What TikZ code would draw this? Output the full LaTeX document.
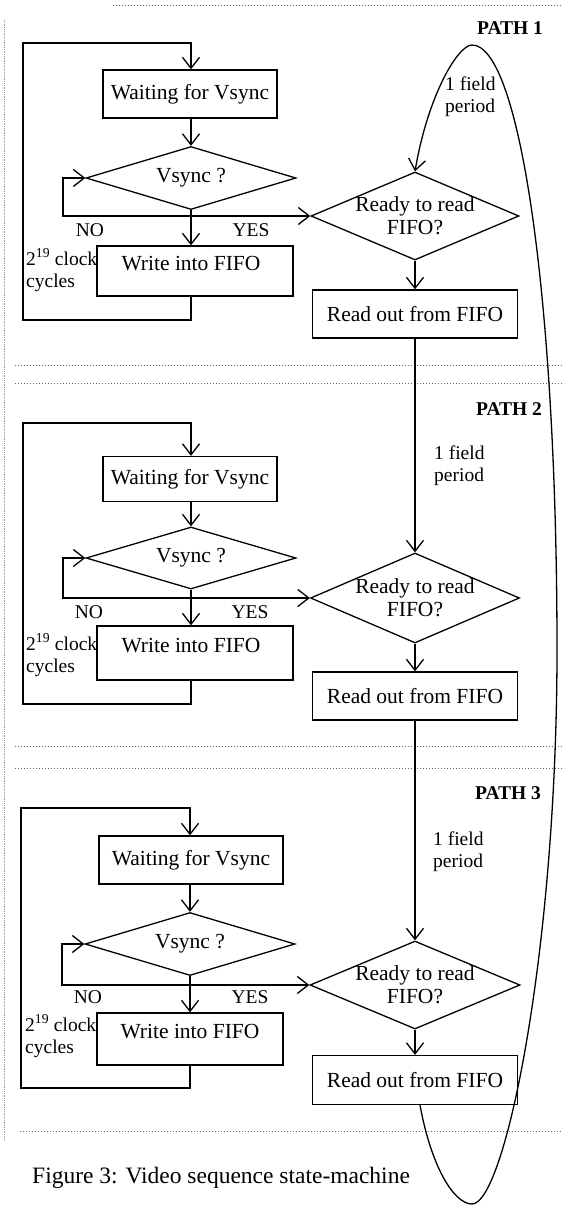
\documentclass[tikz,border=0pt]{standalone}
\usepackage{fontspec}
\setmainfont{Liberation Serif}
\usetikzlibrary{shapes.geometric,arrows.meta}
\newcommand\mainf{\fontsize{21.5}{23}\selectfont}
\newcommand\lblf{\fontsize{19.5}{22}\selectfont}
\newcommand\capf{\fontsize{23.5}{26}\selectfont}
\begin{document}
\begin{tikzpicture}[x=1pt,y=-1pt,
  ln/.style={line width=1.3pt},
  arr/.style={ln,-{Straight Barb[length=11pt,width=17pt]}},
  box/.style={draw,ln,rectangle,inner sep=0pt,font=\mainf},
  dia/.style={draw,ln,diamond,shape aspect=3,inner sep=0pt,font=\mainf},
  intext/.style={font=\mainf,align=center,inner sep=0pt},
  lbl/.style={font=\lblf,inner sep=0pt},
  pathlbl/.style={font=\lblf\bfseries,inner sep=0pt},
  sep/.style={draw=black!60,dotted,line width=1pt}]
\useasboundingbox (0,0) rectangle (562,1208);
% separators
\draw[sep] (113,5) -- (562,5);
\draw[sep] (15,365) -- (562,365);
\draw[sep] (15,383) -- (562,383);
\draw[sep] (15,746) -- (562,746);
\draw[sep] (15,768) -- (562,768);
\draw[sep] (20,1131) -- (562,1131);
\draw[draw=black!40,densely dotted,line width=0.8pt] (4,20) -- (4,1140);

% ---------- PATH 1 ----------
\node[box,minimum width=174pt,minimum height=48pt] (wt1) at (190,94) {Waiting for Vsync};
\node[dia,minimum width=210pt,minimum height=63pt] (vs1) at (191,178) {Vsync ?};
\node[dia,minimum width=208pt,minimum height=88pt,
      label={[intext]center:{Ready to read\\FIFO?}}] (rd1) at (415,216) {};
\node[box,minimum width=196pt,minimum height=50pt,
      label={[intext,xshift=-4pt,yshift=7pt]center:{Write into FIFO}}] (wr1) at (195,271) {};
\node[box,minimum width=205pt,minimum height=48pt] (rr1) at (415,314) {Read out from FIFO};
\coordinate (j1) at (vs1.south |- rd1.west);
\coordinate (no1) at (63,216);
\coordinate (lb1) at (23,320);
\coordinate (lt1) at (23,43);
\draw[arr] (wt1.south -| vs1.north) -- (vs1.north);
\draw[arr] (vs1.south) -- (vs1.south |- wr1.north);
\draw[arr] (j1) -- (rd1.west);
\draw[arr] (j1) -- (no1) |- (vs1.west);
\draw[arr] (wr1.south -| vs1.south) |- (lb1) -- (lt1) -| (wt1.north -| vs1.north);
\draw[arr] (rd1.south) -- (rr1.north);
\node[lbl] (no1t) at (90,230) {NO};
\node[lbl] (yes1t) at (251,230) {YES};
\node[lbl,anchor=west,align=left] (clk1) at (26,270) {2\textsuperscript{19} clock\\cycles};
\node[pathlbl] (p1) at (510,28) {PATH 1};
\node[lbl,anchor=west,align=left] (fp1) at (445,97) {1 field\\period};

% ---------- PATH 2 ----------
\node[box,minimum width=174pt,minimum height=45pt] (wt2) at (190,479) {Waiting for Vsync};
\node[dia,minimum width=210pt,minimum height=62pt] (vs2) at (191,558) {Vsync ?};
\node[dia,minimum width=209pt,minimum height=90pt,
      label={[intext]center:{Ready to read\\FIFO?}}] (rd2) at (415,598) {};
\node[box,minimum width=196pt,minimum height=54pt,
      label={[intext,xshift=-4pt,yshift=7pt]center:{Write into FIFO}}] (wr2) at (195,653) {};
\node[box,minimum width=205pt,minimum height=48pt] (rr2) at (415,696) {Read out from FIFO};
\coordinate (j2) at (vs2.south |- rd2.west);
\coordinate (no2) at (63,598);
\coordinate (lb2) at (23,704);
\coordinate (lt2) at (23,423);
\draw[arr] (wt2.south -| vs2.north) -- (vs2.north);
\draw[arr] (vs2.south) -- (vs2.south |- wr2.north);
\draw[arr] (j2) -- (rd2.west);
\draw[arr] (j2) -- (no2) |- (vs2.west);
\draw[arr] (wr2.south -| vs2.south) |- (lb2) -- (lt2) -| (wt2.north -| vs2.north);
\draw[arr] (rd2.south) -- (rr2.north);
\draw[arr] (rr1.south) -- (rd2.north);
\node[lbl] (no2t) at (89,612) {NO};
\node[lbl] (yes2t) at (250,612) {YES};
\node[lbl,anchor=west,align=left] (clk2) at (26,655) {2\textsuperscript{19} clock\\cycles};
\node[pathlbl] (p2) at (509,409) {PATH 2};
\node[lbl,anchor=west,align=left] (fp2) at (434,466) {1 field\\period};

% ---------- PATH 3 ----------
\node[box,minimum width=184pt,minimum height=48pt] (wt3) at (191,860) {Waiting for Vsync};
\node[dia,minimum width=210pt,minimum height=63pt] (vs3) at (190,944) {Vsync ?};
\node[dia,minimum width=210pt,minimum height=88pt,
      label={[intext]center:{Ready to read\\FIFO?}}] (rd3) at (415,985) {};
\node[box,minimum width=186pt,minimum height=52pt,
      label={[intext,yshift=7pt]center:{Write into FIFO}}] (wr3) at (190,1039) {};
\node[box,minimum width=205pt,minimum height=49pt] (rr3) at (415,1080) {Read out from FIFO};
\coordinate (j3) at (vs3.south |- rd3.west);
\coordinate (no3) at (62,985);
\coordinate (lb3) at (21,1088);
\coordinate (lt3) at (21,808);
\draw[arr] (wt3.south -| vs3.north) -- (vs3.north);
\draw[arr] (vs3.south) -- (vs3.south |- wr3.north);
\draw[arr] (j3) -- (rd3.west);
\draw[arr] (j3) -- (no3) |- (vs3.west);
\draw[arr] (wr3.south -| vs3.south) |- (lb3) -- (lt3) -| (wt3.north -| vs3.north);
\draw[arr] (rd3.south) -- (rr3.north);
\draw[arr] (rr2.south) -- (rd3.north);
\node[lbl] (no3t) at (88,997) {NO};
\node[lbl] (yes3t) at (250,997) {YES};
\node[lbl,anchor=west,align=left] (clk3) at (25,1036) {2\textsuperscript{19} clock\\cycles};
\node[pathlbl] (p3) at (508,793) {PATH 3};
\node[lbl,anchor=west,align=left] (fp3) at (433,852) {1 field\\period};

% ---------- return loop (ellipse) ----------
\coordinate (eb) at (472,1204);
\coordinate (er) at (557,650);
\coordinate (et) at (472,45);
\draw[arr] ([xshift=5pt]rr3.south) .. controls (432,1170) and (455,1204) .. (eb)
  .. controls (505,1204) and (557,950) .. (er)
  .. controls (557,300) and (520,45) .. (et)
  .. controls (458,45) and (428,95) .. (rd1.north);

% caption
\node[font=\capf,anchor=west,inner sep=0pt] (cap) at (32,1178) {Figure 3: Video sequence state-machine};
\end{tikzpicture}
\end{document}
